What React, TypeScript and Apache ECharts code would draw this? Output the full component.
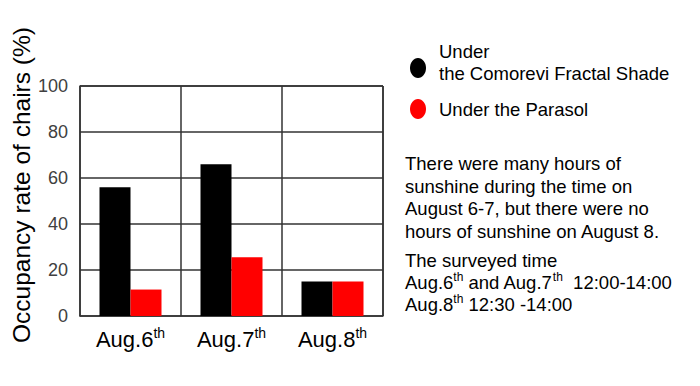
import React, { useEffect, useRef } from "react";
import * as echarts from "echarts";

const categories = ["Aug.6", "Aug.7", "Aug.8"];
const seriesNames = ["Under\nthe Comorevi Fractal Shade", "Under the Parasol"];
const fractalShade = [56, 66, 15];
const parasol = [11.5, 25.5, 15];
const yTicks = { min: 0, max: 100, interval: 20 };
const yAxisTitle = "Occupancy rate of chairs (%)";
const noteLines = [
  "There were many hours of",
  "sunshine during the time on",
  "August 6-7, but there were no",
  "hours of sunshine on August 8.",
];
const surveyLines = [
  "{n|The surveyed time}",
  "{n|Aug.6}{s|th}{n| and Aug.7}{s|th}{n|  12:00-14:00}",
  "{n|Aug.8}{s|th}{n| 12:30 -14:00}",
];

const FONT = "Liberation Sans, Arial, sans-serif";

export default function App() {
  const ref = useRef<HTMLDivElement>(null);
  useEffect(() => {
    document.body.style.margin = "0";
    const chart = echarts.init(ref.current!, null, { renderer: "svg" });
    const richText = {
      n: { fontSize: 18.5, fontFamily: FONT, color: "#000", lineHeight: 22 },
      s: { fontSize: 12, fontFamily: FONT, color: "#000", verticalAlign: "top", lineHeight: 12 },
    };
    chart.setOption({
      animation: false,
      backgroundColor: "#fff",
      textStyle: { fontFamily: FONT },
      grid: { left: 80, top: 86, width: 303, height: 230, show: false },
      xAxis: {
        type: "category",
        data: categories,
        axisLine: { show: true, lineStyle: { color: "#333", width: 1.5 } },
        axisTick: { show: false },
        splitLine: { show: true, lineStyle: { color: "#333", width: 1.5 } },
        axisLabel: {
          margin: 10,
          formatter: (v: string) => `{a|${v}}{s|th}`,
          rich: {
            a: { fontSize: 22, fontFamily: FONT, color: "#000", lineHeight: 26 },
            s: { fontSize: 14, fontFamily: FONT, color: "#000", verticalAlign: "top", lineHeight: 15 },
          },
        },
      },
      yAxis: {
        type: "value",
        min: yTicks.min,
        max: yTicks.max,
        interval: yTicks.interval,
        name: yAxisTitle,
        nameLocation: "middle",
        nameGap: 44,
        nameTextStyle: { fontSize: 24.5, color: "#000", fontFamily: FONT, padding: [0, 0, 0, 32] },
        axisLine: { show: true, lineStyle: { color: "#333", width: 1.5 } },
        axisTick: { show: false },
        splitLine: { show: true, lineStyle: { color: "#333", width: 1.5 } },
        axisLabel: { fontSize: 18, color: "#404040", margin: 12, fontFamily: FONT },
      },
      series: [
        {
          type: "bar",
          name: seriesNames[0],
          data: fractalShade,
          barWidth: 31,
          barGap: "0%",
          itemStyle: { color: "#000" },
        },
        {
          type: "bar",
          name: seriesNames[1],
          data: parasol,
          barWidth: 31,
          barGap: "0%",
          itemStyle: { color: "#ff0000" },
        },
      ],
      graphic: [
        { type: "line", shape: { x1: 383, y1: 86, x2: 383, y2: 316 }, style: { stroke: "#333", lineWidth: 1.5 } },
        { type: "line", shape: { x1: 80, y1: 86, x2: 383, y2: 86 }, style: { stroke: "#333", lineWidth: 1.5 } },
        { type: "ellipse", shape: { cx: 418, cy: 68, rx: 8, ry: 10 }, style: { fill: "#000" } },
        {
          type: "text",
          x: 439,
          y: 40,
          style: { text: seriesNames[0], fontSize: 18.5, fontFamily: FONT, fill: "#000", lineHeight: 22 },
        },
        { type: "ellipse", shape: { cx: 418, cy: 109, rx: 8, ry: 10 }, style: { fill: "#ff0000" } },
        {
          type: "text",
          x: 439,
          y: 109,
          style: { text: seriesNames[1], fontSize: 18.5, fontFamily: FONT, fill: "#000", verticalAlign: "middle" },
        },
        {
          type: "text",
          x: 405,
          y: 152,
          style: { text: noteLines.join("\n"), fontSize: 18.5, fontFamily: FONT, fill: "#000", lineHeight: 22.7 },
        },
        {
          type: "text",
          x: 405,
          y: 249,
          style: { text: surveyLines.join("\n"), rich: richText, fontSize: 18.5, fontFamily: FONT, fill: "#000" },
        },
      ],
    });
    return () => chart.dispose();
  }, []);
  return <div ref={ref} style={{ width: 700, height: 386 }} />;
}
